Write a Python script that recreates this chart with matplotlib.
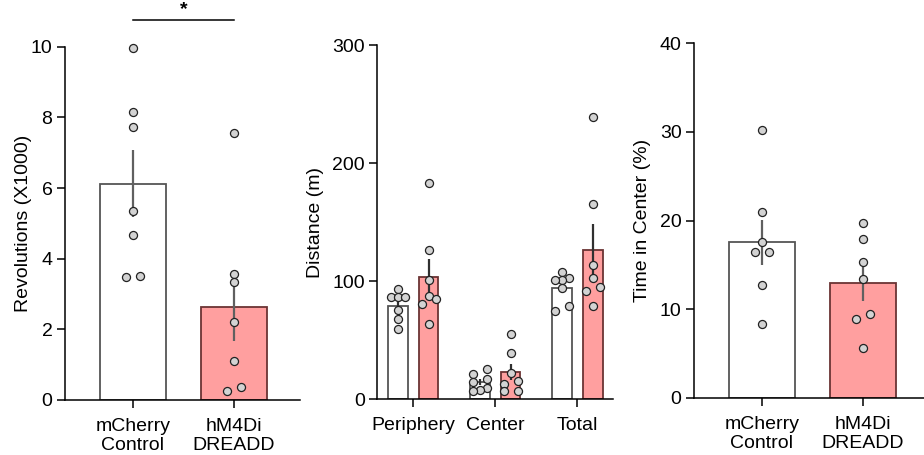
import numpy as np
import matplotlib.pyplot as plt

plt.rcParams['font.family'] = ['Liberation Sans', 'DejaVu Sans']

# wheel running, revolutions x1000
groups = ['mCherry\nControl', 'hM4Di\nDREADD']
rev_ctrl = [9.95, 8.15, 7.74, 5.35, 4.66, 3.47, 3.50]
rev_dreadd = [7.56, 3.57, 3.34, 2.20, 1.10, 0.26, 0.36]

# open field distance (m)
zones = ['Periphery', 'Center', 'Total']
dist_ctrl = [[93.5, 86.4, 86.4, 86.4, 75.7, 67.8, 59.5],
             [25.4, 21.4, 17.0, 14.5, 9.5, 8.0, 7.0],
             [108.0, 102.5, 101.0, 101.0, 94.0, 79.0, 75.0]]
dist_dreadd = [[183.3, 126.0, 101.1, 87.8, 84.7, 80.8, 63.8],
               [55.3, 39.0, 22.5, 15.5, 13.0, 7.3, 7.3],
               [238.7, 165.3, 113.8, 103.0, 94.9, 91.8, 79.3]]

# time in center (%)
tic_ctrl = [30.18, 20.96, 17.57, 16.41, 16.41, 12.75, 8.35]
tic_dreadd = [19.68, 17.95, 15.28, 13.43, 9.45, 8.85, 5.64]

W, H = 924, 455
PINK = '#ff9f9f'
PINK_EDGE = '#6b3434'
WHITE_EDGE = '#555555'

fig = plt.figure(figsize=(W/100, H/100), dpi=100)

def add_ax(left, right, top, bottom):
    return fig.add_axes([left/W, 1-bottom/H, (right-left)/W, (bottom-top)/H])

def sem(v):
    v = np.asarray(v)
    return v.std(ddof=1)/np.sqrt(len(v))

def swarm(vals, ax, g=7.0, thr=6.0):
    # graphpad-like rows: points close in y share a row
    bb = ax.get_position()
    x0, x1 = ax.get_xlim()
    y0, y1 = ax.get_ylim()
    ppx = bb.width*W/(x1-x0)
    ppy = bb.height*H/(y1-y0)
    vals = np.asarray(vals)
    order = np.argsort(vals)
    offs = np.zeros(len(vals))
    rows = []
    for i in order:
        if rows and (vals[i]-vals[rows[-1][0]])*ppy < thr:
            rows[-1].append(i)
        else:
            rows.append([i])
    for r in rows:
        n = len(r)
        if n % 2:
            pos = np.arange(n) - (n-1)/2
        else:
            pos = np.concatenate([-np.arange(n//2, 0, -1), np.arange(1, n//2+1)])
        for k, i in enumerate(r):
            offs[i] = pos[k]*g/ppx
    return offs

def bar_group(ax, x, vals, width, fill, edge, ecol):
    ax.bar(x, np.mean(vals), width, color=fill, edgecolor=edge, linewidth=1.3, zorder=1)
    ax.errorbar(x, np.mean(vals), yerr=sem(vals), fmt='none', ecolor=ecol,
                elinewidth=1.6, capsize=0, zorder=2)
    ax.plot(x + swarm(vals, ax), vals, 'o', ms=5.8, mfc='#d3d3d3', mec='#222222',
            mew=0.9, zorder=3, clip_on=False)

def style(ax):
    for s in ['top', 'right']:
        ax.spines[s].set_visible(False)
    for s in ['left', 'bottom']:
        ax.spines[s].set_linewidth(1.1)
    ax.tick_params(direction='out', length=6, width=1.1, labelsize=14, pad=3)
    ax.tick_params(axis='x', pad=7)

# panel 1
ax1 = add_ax(65, 300, 46.7, 400)
ax1.set_xlim(-0.673, 1.653)
ax1.set_ylim(0, 10)
bar_group(ax1, 0, rev_ctrl, 0.65, 'white', WHITE_EDGE, '#606060')
bar_group(ax1, 1, rev_dreadd, 0.65, PINK, PINK_EDGE, '#606060')
ax1.set_xticks([0, 1])
ax1.set_xticklabels(groups, linespacing=1.15)
ax1.set_yticks([0, 2, 4, 6, 8, 10])
ax1.set_ylabel('Revolutions (X1000)', fontsize=14, labelpad=-1)
ax1.plot([0, 1], [10.76, 10.76], color='black', lw=1.1, clip_on=False)
ax1.text(0.5, 11.05, '*', ha='center', va='center', fontsize=14, fontweight='bold')
style(ax1)

# panel 2
ax2 = add_ax(377.3, 613, 45, 399.3)
ax2.set_xlim(-0.439, 2.435)
ax2.set_ylim(0, 300)
for i in range(len(zones)):
    bar_group(ax2, i-0.187, dist_ctrl[i], 0.24, 'white', WHITE_EDGE, '#303030')
    bar_group(ax2, i+0.187, dist_dreadd[i], 0.24, PINK, PINK_EDGE, '#303030')
ax2.set_xticks(range(len(zones)))
ax2.set_xticklabels(zones)
ax2.set_yticks([0, 100, 200, 300])
ax2.set_ylabel('Distance (m)', fontsize=14, labelpad=6)
style(ax2)

# panel 3
ax3 = add_ax(694, 924, 43.3, 397.7)
ax3.set_xlim(-0.673, 1.604)
ax3.set_ylim(0, 40)
bar_group(ax3, 0, tic_ctrl, 0.65, 'white', WHITE_EDGE, '#606060')
bar_group(ax3, 1, tic_dreadd, 0.65, PINK, PINK_EDGE, '#606060')
ax3.set_xticks([0, 1])
ax3.set_xticklabels(groups, linespacing=1.15)
ax3.set_yticks([0, 10, 20, 30, 40])
ax3.set_ylabel('Time in Center (%)', fontsize=14, labelpad=6)
style(ax3)

fig.savefig('out.png', dpi=100)
